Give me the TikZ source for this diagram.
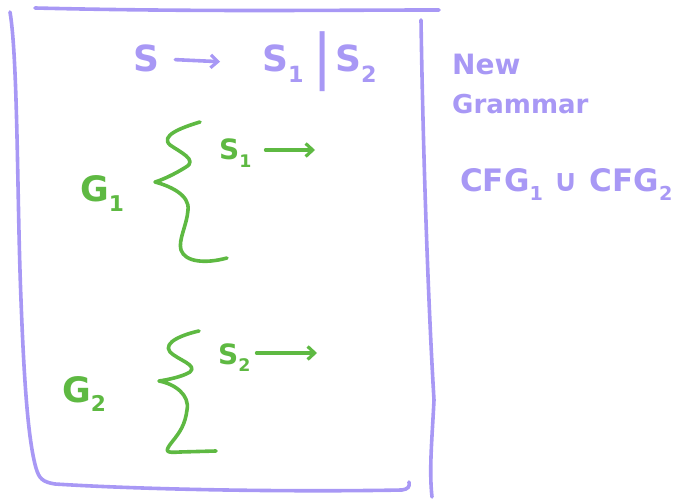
\documentclass[tikz,border=0pt]{standalone}
\usepackage{fontspec}
\usepackage{graphicx}
\setmainfont{DejaVu Sans}
\usetikzlibrary{arrows.meta}
\definecolor{penpurple}{RGB}{168,152,245}
\definecolor{pengreen}{RGB}{94,185,66}
\newcommand\lowsub[1]{\raisebox{-0.28em}{\scalebox{0.62}{#1}}}
\begin{document}
\begin{tikzpicture}[x=1pt,y=-1pt,
  pen/.style={line width=3.6pt,line cap=round,line join=round},
  ppen/.style={pen,draw=penpurple},
  gpen/.style={pen,draw=pengreen},
  ptext/.style={text=penpurple,inner sep=0pt,anchor=base west},
  gtext/.style={text=pengreen,inner sep=0pt,anchor=base west},
  handarrow/.style={-{Straight Barb[length=7pt,width=13pt,line width=3.2pt]}}]
\useasboundingbox (0,0) rectangle (693,502);
% box
\draw[ppen] (35,8) .. controls (200,12) and (330,10) .. (439,10);
\draw[ppen] (421,20) .. controls (423,150) and (428,300) .. (434,400) .. controls (432,440) and (429,470) .. (432,497);
\draw[ppen] (10,12) .. controls (18,60) and (17,200) .. (21,300) .. controls (24,380) and (28,440) .. (36,468) .. controls (39,478) and (42,482) .. (55,484) .. controls (150,490) and (300,492) .. (402,490) .. controls (408,489) and (410,487) .. (409,482);
% top production
\node[ptext,font=\fontsize{36}{40}\selectfont\bfseries] (s) at (133,72) {S};
\node[ptext,font=\fontsize{36}{40}\selectfont\bfseries] (s1) at (262,72) {S\lowsub{1}};
\node[text=penpurple,inner sep=0pt,font=\fontsize{60}{62}\selectfont] (bar) at (323,62) {|};
\node[ptext,font=\fontsize{36}{40}\selectfont\bfseries] (s2) at (335,72) {S\lowsub{2}};
\draw[ppen,handarrow,shorten <=16pt,shorten >=42pt] (s.east) -- (s1.west);
% side text
\node[ptext,font=\fontsize{28}{32}\selectfont\bfseries] (new) at (452,75) {New};
\node[ptext,font=\fontsize{26}{30}\selectfont\bfseries] (gram) at (452,114) {Grammar};
\node[ptext,font=\fontsize{31}{36}\selectfont\bfseries] (union) at (460,192) {CFG\lowsub{1} ∪ CFG\lowsub{2}};
% G1
\node[gtext,font=\fontsize{35}{40}\selectfont\bfseries] (g1) at (80,202) {G\lowsub{1}};
\draw[gpen] (200,122) .. controls (180,128) and (160,136) .. (170,145) .. controls (180,152) and (198,160) .. (186,167) .. controls (175,174) and (162,180) .. (155,182) .. controls (170,186) and (190,195) .. (188,210) .. controls (187,225) and (178,240) .. (181,250) .. controls (185,262) and (205,264) .. (227,258);
\node[gtext,font=\fontsize{28}{32}\selectfont\bfseries] (s1l) at (219,160) {S\lowsub{1}};
\coordinate (a1) at (315,150);
\draw[gpen,handarrow,shorten <=14pt] (s1l.east |- a1) -- (a1);
% G2
\node[gtext,font=\fontsize{35}{40}\selectfont\bfseries] (g2) at (62,402) {G\lowsub{2}};
\draw[gpen] (199,331) .. controls (185,334) and (162,342) .. (170,352) .. controls (178,360) and (198,365) .. (190,372) .. controls (182,377) and (166,380) .. (159,381) .. controls (175,384) and (190,395) .. (187,410) .. controls (185,425) and (180,432) .. (172,442) .. controls (164,452) and (166,453) .. (180,452) -- (216,451);
\node[gtext,font=\fontsize{28}{32}\selectfont\bfseries] (s2l) at (218,364) {S\lowsub{2}};
\coordinate (a2) at (317,353);
\draw[gpen,handarrow,shorten <=6pt] (s2l.east |- a2) -- (a2);
\end{tikzpicture}
\end{document}
